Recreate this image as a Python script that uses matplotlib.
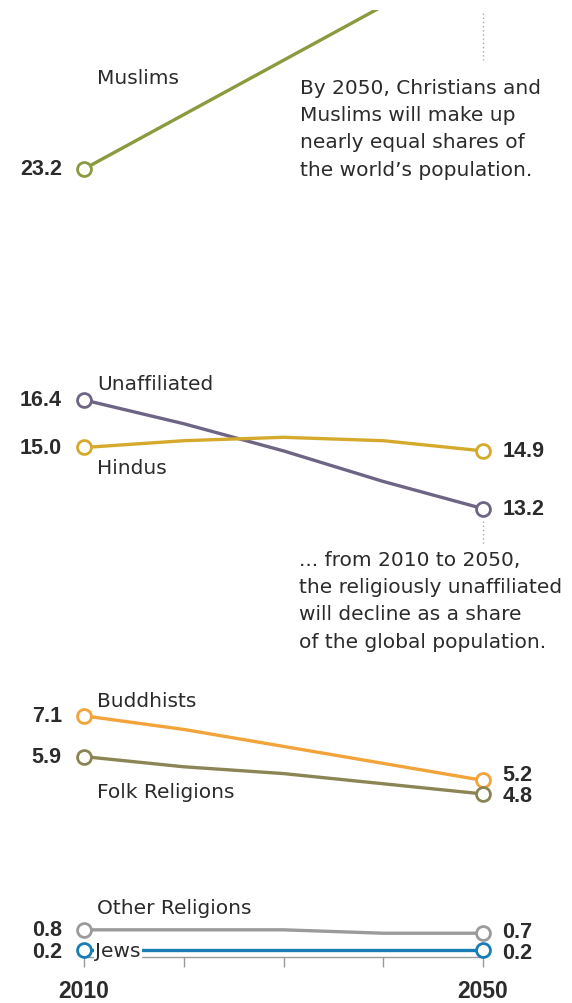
import matplotlib.pyplot as plt

plt.rcParams['font.family'] = ['DejaVu Sans']
num_font = ['Liberation Sans', 'DejaVu Sans']

years = [2010, 2020, 2030, 2040, 2050]

# share of world population, %
muslims = [23.2, 24.8, 26.4, 28.0, 29.7]
unaffiliated = [16.4, 15.7, 14.9, 14.0, 13.2]
hindus = [15.0, 15.2, 15.3, 15.2, 14.9]
buddhists = [7.1, 6.7, 6.2, 5.7, 5.2]
folk = [5.9, 5.6, 5.4, 5.1, 4.8]
other = [0.8, 0.8, 0.8, 0.7, 0.7]
jews = [0.2, 0.2, 0.2, 0.2, 0.2]

series = [
    ("Muslims", muslims, "#8a9b3e", False),
    ("Unaffiliated", unaffiliated, "#6e6585", True),
    ("Hindus", hindus, "#d5aa2c", True),
    ("Buddhists", buddhists, "#f2a33a", True),
    ("Folk Religions", folk, "#8b8455", True),
    ("Other Religions", other, "#9b9b9b", True),
    ("Jews", jews, "#1a7db6", True),
]
# small vertical nudges (points) for end labels that would collide
end_nudge = {"Buddhists": 4.5, "Folk Religions": -1, "Other Religions": 1, "Jews": -1.5}
start_nudge = {"Other Religions": 0.5, "Jews": -1}

txt = "#2b2b2b"

fig = plt.figure(figsize=(5.72, 10.04), dpi=100)
ax = fig.add_axes([84 / 572, 1 - 958 / 1004, 399 / 572, 947 / 1004])
ax.set_xlim(2010, 2050)
ax.set_ylim(0, 27.88)

for name, vals, col, show_end in series:
    # Muslims run off the top of the chart, so only that line is clipped
    ax.plot(years, vals, color=col, lw=2.4, clip_on=(name == "Muslims"), zorder=3,
            solid_capstyle="round")
    ends_x = [years[0], years[-1]] if show_end else [years[0]]
    ends_y = [vals[0], vals[-1]] if show_end else [vals[0]]
    ax.plot(ends_x, ends_y, ls="none", marker="o", ms=10, mfc="white", mec=col,
            mew=2, clip_on=False, zorder=5)

# value labels at both ends
for name, vals, col, show_end in series:
    ax.annotate(f"{vals[0]:.1f}", (years[0], vals[0]),
                xytext=(-16, start_nudge.get(name, 0)),
                textcoords="offset points", ha="right", va="center", family=num_font,
                fontsize=15.5, fontweight="bold", color=txt)
    if show_end:
        ax.annotate(f"{vals[-1]:.1f}", (years[-1], vals[-1]),
                    xytext=(14, end_nudge.get(name, 0)),
                    textcoords="offset points", ha="left", va="center", family=num_font,
                    fontsize=15.5, fontweight="bold", color=txt)

# series names
lab = dict(fontsize=14.5, color=txt, ha="left", va="center")
ax.text(2011.3, 25.88, "Muslims", **lab)
ax.text(2011.3, 16.87, "Unaffiliated", **lab)
ax.text(2011.3, 14.42, "Hindus", **lab)
ax.text(2011.3, 7.56, "Buddhists", **lab)
ax.text(2011.3, 4.88, "Folk Religions", **lab)
ax.text(2011.3, 1.47, "Other Religions", **lab)
ax.text(2011.1, 0.2, "Jews", zorder=4,
        bbox=dict(facecolor="white", edgecolor="none", pad=1), **lab)

# notes
note = dict(fontsize=14.5, color=txt, ha="left", va="center", linespacing=1.55)
ax.text(2031.65, 24.4,
        "By 2050, Christians and\nMuslims will make up\nnearly equal shares of\nthe world\u2019s population.",
        **note)
ax.text(2031.55, 10.5,
        "... from 2010 to 2050,\nthe religiously unaffiliated\nwill decline as a share\nof the global population.",
        **note)
ax.plot([2050, 2050], [27.8, 26.4], color="#aaaaaa", lw=1, ls=(0, (1, 2)), clip_on=False)
ax.plot([2050, 2050], [12.85, 12.15], color="#aaaaaa", lw=1, ls=(0, (1, 2)), clip_on=False)

# axes styling
for s in ["top", "right", "left"]:
    ax.spines[s].set_visible(False)
ax.spines["bottom"].set_color("#999999")
ax.spines["bottom"].set_linewidth(1)
ax.set_yticks([])
ax.set_xticks(years)
ax.set_xticklabels(["2010", "", "", "", "2050"], fontsize=16.5, fontweight="bold",
                   color=txt, family=num_font)
ax.tick_params(axis="x", length=7, width=1, color="#999999", pad=9)

fig.savefig("out.png", dpi=100, facecolor="white")
